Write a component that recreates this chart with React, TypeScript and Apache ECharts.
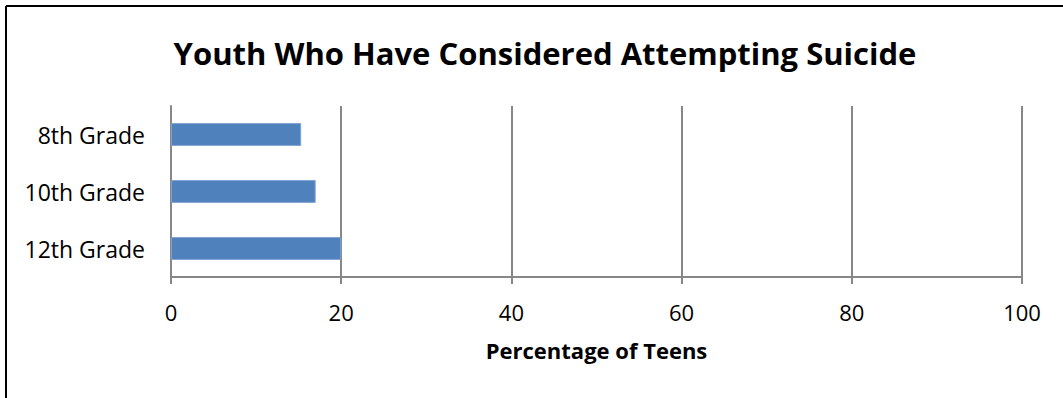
import React, { useEffect, useRef } from "react";
import * as echarts from "echarts";

const titleText = "Youth Who Have Considered Attempting Suicide";
const categories = ["8th Grade", "10th Grade", "12th Grade"];
const values = [15.3, 17, 20];
const xAxisName = "Percentage of Teens";
const xMin = 0;
const xMax = 100;
const xInterval = 20;

const FONT = "'Open Sans', sans-serif";
const GRAY = "#878787";

export default function App() {
  const ref = useRef<HTMLDivElement>(null);
  useEffect(() => {
    if (!ref.current) return;
    const chart = echarts.init(ref.current, null, { renderer: "svg" });
    chart.setOption({
      animation: false,
      backgroundColor: "#ffffff",
      title: {
        text: titleText,
        left: 540,
        textAlign: "center",
        top: 32,
        textStyle: { fontFamily: FONT, fontWeight: "bold", fontSize: 31, color: "#000" },
      },
      grid: { left: 171, right: 41, top: 106, bottom: 121, containLabel: false },
      xAxis: {
        type: "value",
        min: xMin,
        max: xMax,
        interval: xInterval,
        name: xAxisName,
        nameLocation: "middle",
        nameGap: 62,
        nameTextStyle: { fontFamily: FONT, fontWeight: "bold", fontSize: 22, color: "#000" },
        axisLine: { show: true, lineStyle: { color: GRAY, width: 2 } },
        axisTick: { show: true, length: 7, lineStyle: { color: GRAY, width: 2 } },
        axisLabel: { fontFamily: FONT, fontSize: 22, color: "#000", margin: 24 },
        splitLine: { show: true, lineStyle: { color: GRAY, width: 2 } },
      },
      yAxis: {
        type: "category",
        data: categories,
        inverse: true,
        axisLine: { show: true, lineStyle: { color: GRAY, width: 2 } },
        axisTick: { show: false },
        axisLabel: { fontFamily: FONT, fontSize: 23, color: "#000", margin: 26 },
        splitLine: { show: false },
      },
      series: [
        {
          type: "bar",
          data: values,
          barCategoryGap: "60%",
          itemStyle: { color: "#4F81BD", borderColor: "#7FA3D1", borderWidth: 1 },
        },
      ],
      graphic: [
        { type: "line", shape: { x1: 6, y1: 6, x2: 1063, y2: 6 }, style: { stroke: "#000", lineWidth: 2 } },
        { type: "line", shape: { x1: 6, y1: 6, x2: 6, y2: 398 }, style: { stroke: "#000", lineWidth: 2 } },
      ],
    });
    return () => chart.dispose();
  }, []);
  return (
    <div
      ref={ref}
      style={{ position: "fixed", left: 0, top: 0, width: 1063, height: 398 }}
    />
  );
}
